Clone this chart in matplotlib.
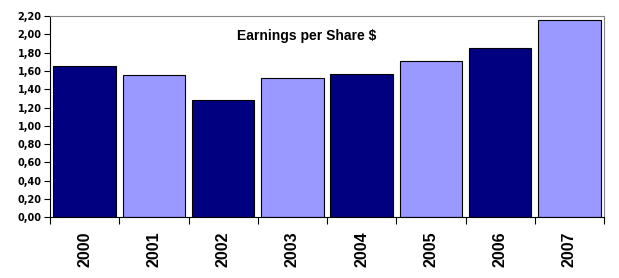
import matplotlib
matplotlib.use("Agg")
import matplotlib.pyplot as plt
from matplotlib.ticker import FixedLocator

years = ["2000", "2001", "2002", "2003", "2004", "2005", "2006", "2007"]
eps = [1.65, 1.55, 1.28, 1.52, 1.57, 1.71, 1.85, 2.155]
colors = ["#000080", "#9999FF"] * 4

fig = plt.figure(figsize=(6.19, 2.78), dpi=100)
ax = fig.add_axes([50 / 619, 1 - 217.3 / 278, (604 - 50) / 619, (217.3 - 16) / 278])

x = list(range(len(years)))
ax.bar(x, eps, width=0.9, color=colors, edgecolor="black", linewidth=0.8)

ax.set_xlim(-0.5, len(years) - 0.5)
ax.set_ylim(0, 2.2)

yt = [i * 0.2 for i in range(12)]
ax.set_yticks(yt)
ax.set_yticklabels([f"{v:.2f}".replace(".", ",") for v in yt],
                   fontsize=7, fontweight="bold", family="DejaVu Sans")
ax.tick_params(axis="y", direction="out", length=4, width=0.8, pad=2)

ax.set_xticks(x)
ax.set_xticklabels(years, rotation=90, fontsize=11.5, fontweight="bold",
                   family="Liberation Sans")
ax.tick_params(axis="x", length=0, pad=10)
ax.xaxis.set_minor_locator(FixedLocator([i - 0.5 for i in range(len(years) + 1)]))
ax.tick_params(axis="x", which="minor", direction="out", length=5, width=0.8)

for side in ["top", "right"]:
    ax.spines[side].set_color("#888888")
for side in ["left", "bottom"]:
    ax.spines[side].set_color("black")

ax.text(0.464, 0.9, "Earnings per Share $", transform=ax.transAxes,
        ha="center", va="center", fontsize=10, fontweight="bold",
        family="Liberation Sans")

fig.savefig("out.png", dpi=100)
